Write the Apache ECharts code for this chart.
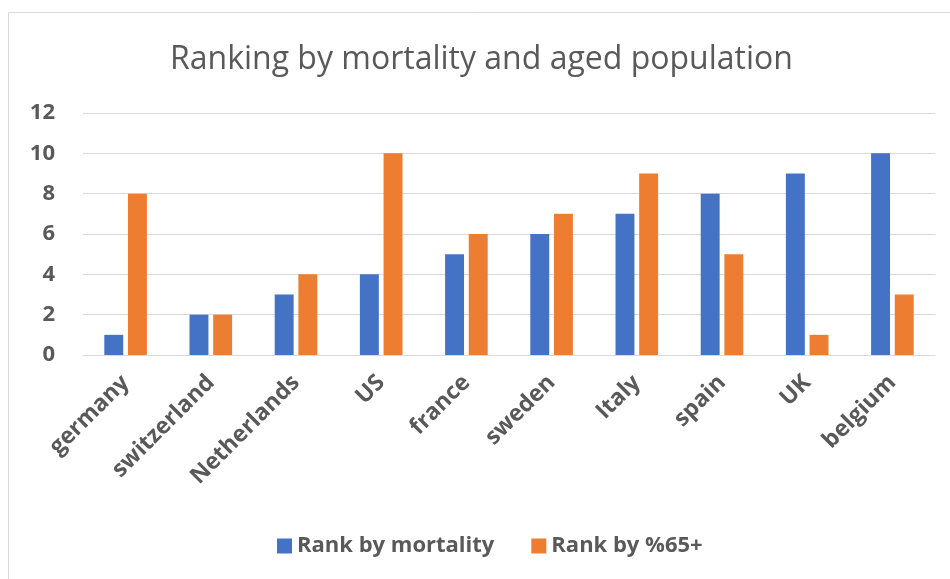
<!DOCTYPE html>
<html lang="en" style="height: 100%">
<head>
  <meta charset="utf-8">
</head>
<body style="height: 100%; margin: 0; background: #fff">
  <div id="container" style="width: 950px; height: 579px"></div>
  <script type="text/javascript" src="https://cdn.jsdelivr.net/npm/echarts@6/dist/echarts.min.js"></script>
  <script type="text/javascript">
const countries = ['germany', 'switzerland', 'Netherlands', 'US', 'france', 'sweden', 'Italy', 'spain', 'UK', 'belgium'];
const rankMortality = [1, 2, 3, 4, 5, 6, 7, 8, 9, 10];
const rankAged = [8, 2, 4, 10, 6, 7, 9, 5, 1, 3];

var dom = document.getElementById('container');
var myChart = echarts.init(dom, null, { renderer: 'canvas' });
var textColor = '#595959';
var font = 'Open Sans';

var option = {
  backgroundColor: '#fff',
  animation: false,
  graphic: [{
    type: 'rect',
    shape: { x: 8.5, y: 12.5, width: 960, height: 600 },
    style: { fill: 'none', stroke: '#d9d9d9', lineWidth: 1 }
  }],
  title: {
    text: 'Ranking by mortality and aged population',
    left: 165,
    top: 39,
    textStyle: { color: textColor, fontFamily: font, fontWeight: 'normal', fontSize: 32 }
  },
  legend: {
    bottom: 17,
    left: 272,
    itemWidth: 15,
    itemHeight: 15,
    itemGap: 37,
    icon: 'rect',
    textStyle: { color: textColor, fontFamily: font, fontWeight: 'bold', fontSize: 22 }
  },
  grid: { left: 83, right: 15, top: 113, bottom: 224, containLabel: false },
  xAxis: {
    type: 'category',
    data: countries,
    axisTick: { show: false },
    axisLine: { lineStyle: { color: '#d9d9d9' } },
    axisLabel: {
      rotate: 45,
      margin: 24,
      color: textColor,
      fontFamily: font,
      fontWeight: 'bold',
      fontSize: 23,
      interval: 0
    }
  },
  yAxis: {
    type: 'value',
    min: 0,
    max: 12,
    interval: 2,
    axisLine: { show: false },
    axisTick: { show: false },
    splitLine: { lineStyle: { color: '#d9d9d9' } },
    axisLabel: {
      margin: 28,
      color: textColor,
      fontFamily: font,
      fontWeight: 'bold',
      fontSize: 22
    }
  },
  series: [
    {
      name: 'Rank by mortality',
      type: 'bar',
      data: rankMortality,
      barGap: '25%',
      barCategoryGap: '50%',
      itemStyle: { color: '#4472c4' }
    },
    {
      name: 'Rank by %65+',
      type: 'bar',
      data: rankAged,
      itemStyle: { color: '#ed7d31' }
    }
  ]
};

myChart.setOption(option);
window.addEventListener('resize', myChart.resize);
  </script>
</body>
</html>
